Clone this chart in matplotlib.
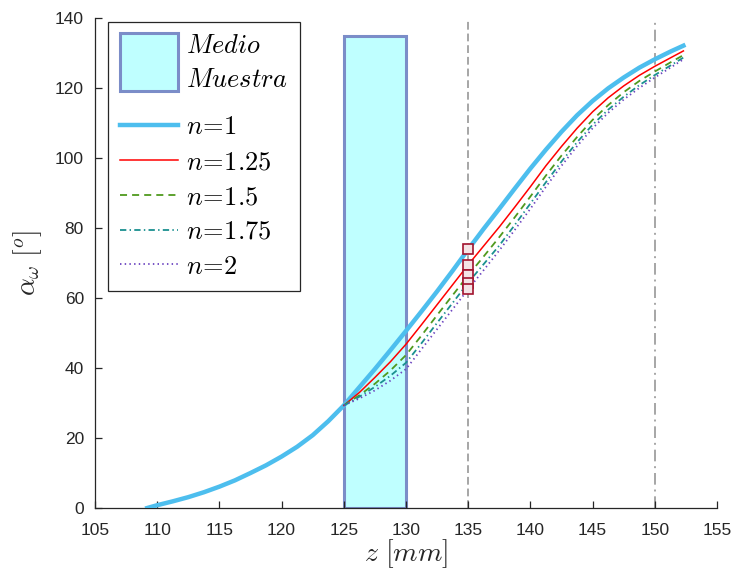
"""
Ángulo alpha_omega frente a z para distintos índices n.
"""
import matplotlib
matplotlib.use("Agg")
import matplotlib.pyplot as plt
import matplotlib.patches as mpatches
from matplotlib.legend_handler import HandlerPatch

# ── datos ───────────────────────────────────────────────────
z_1 = [109.2, 110, 111.25, 112.5, 113.75, 115, 116.25, 117.5, 118.75, 120,
       121.25, 122.5, 123.75, 125, 126.25, 127.5, 128.75, 130, 131.25, 132.5,
       133.75, 135, 136.25, 137.5, 138.75, 140, 141.25, 142.5, 143.75, 145,
       146.25, 147.5, 148.75, 150, 151.25, 152.3]
a_n1 = [0, 0.8, 1.9, 3.1, 4.5, 6.1, 7.9, 10.0, 12.2, 14.7,
        17.5, 20.8, 24.8, 29.3, 34.5, 39.7, 45.1, 50.6, 56.2, 61.9,
        67.8, 73.9, 79.8, 85.5, 91.3, 97.0, 102.4, 107.5, 112.2, 116.3,
        119.9, 123.0, 125.8, 128.2, 130.4, 132.1]

z_n = [125, 126.25, 127.5, 128.75, 130, 131.25, 132.5, 133.75, 135, 136.25,
       137.5, 138.75, 140, 141.25, 142.5, 143.75, 145, 146.25, 147.5, 148.75,
       150, 151.25, 152.3]
a_n125 = [29.3, 33.0, 37.3, 41.8, 46.8, 52.4, 58.1, 63.8, 69.5, 74.9,
          80.3, 86.0, 91.8, 97.8, 103.3, 108.5, 113.2, 117.2, 120.6, 123.6,
          126.2, 128.6, 130.6]
a_n15 = [29.3, 32.2, 35.5, 39.3, 43.7, 49.3, 55.1, 60.8, 66.5, 71.9,
         77.4, 83.1, 89.0, 95.0, 100.7, 106.0, 110.9, 115.1, 118.8, 122.0,
         124.7, 127.3, 129.4]
a_n175 = [29.3, 31.8, 34.6, 37.8, 41.5, 47.1, 52.9, 58.6, 64.4, 69.7,
          75.0, 80.9, 87.0, 93.1, 99.0, 104.5, 109.5, 113.8, 117.5, 120.8,
          123.7, 126.4, 128.7]
a_n2 = [29.3, 31.3, 33.6, 36.4, 39.7, 45.4, 51.1, 56.8, 62.5, 68.0,
        73.6, 79.5, 85.5, 91.8, 97.8, 103.4, 108.5, 112.9, 116.7, 120.0,
        123.0, 125.8, 128.2]

muestra_z = (125, 130)
muestra_alto = 135
z_marca = 135
z_ref = 150

etiquetas = [r"$n\!=\!1$", r"$n\!=\!1.25$", r"$n\!=\!1.5$", r"$n\!=\!1.75$", r"$n\!=\!2$"]

# ── estilo ──────────────────────────────────────────────────
plt.rcParams["mathtext.fontset"] = "cm"
plt.rcParams["font.family"] = ["Liberation Sans", "DejaVu Sans"]

fig = plt.figure(figsize=(7.32, 5.72), dpi=100)
ax = fig.add_axes([0.1298, 0.1119, 0.8497, 0.8566])

# muestra
caja = mpatches.Rectangle((muestra_z[0], 0), muestra_z[1] - muestra_z[0], muestra_alto,
                          facecolor="#BFFFFF", edgecolor="#7B8DC8", linewidth=2.2,
                          zorder=1, label="$Medio$\n$Muestra$")
ax.add_patch(caja)

# líneas de referencia
ax.axvline(z_marca, color="#A6A6A6", linestyle=(0, (4, 2)), linewidth=1.4, zorder=0.5)
ax.axvline(z_ref, color="#A6A6A6", linestyle=(0, (6, 2.5, 1, 2.5)), linewidth=1.4, zorder=0.5)

l1, = ax.plot(z_1, a_n1, color="#4DBEEE", linewidth=3.2, label=etiquetas[0], zorder=3)
l2, = ax.plot(z_n, a_n125, color="#FF0000", linewidth=1.1, label=etiquetas[1], zorder=3)
l3, = ax.plot(z_n, a_n15, color="#4F9A1E", linewidth=1.3, linestyle=(0, (3.9, 2.8)),
              label=etiquetas[2], zorder=3)
l4, = ax.plot(z_n, a_n175, color="#1A9090", linewidth=1.3, linestyle=(0, (3.5, 1.8, 0.8, 1.8)),
              label=etiquetas[3], zorder=3)
l5, = ax.plot(z_n, a_n2, color="#6B44C0", linewidth=1.3, linestyle=(0, (0.8, 1.8)),
              label=etiquetas[4], zorder=3)

# marcadores en z = 135
i1 = z_1.index(z_marca)
i2 = z_n.index(z_marca)
marcas = [a_n1[i1], a_n125[i2], a_n15[i2], a_n175[i2], a_n2[i2]]
ax.plot([z_marca] * len(marcas), marcas, linestyle="none", marker="s", markersize=6.5,
        markerfacecolor="#F4E4E6", markeredgecolor="#A2142F", markeredgewidth=1.2, zorder=4)

# ── ejes ────────────────────────────────────────────────────
ax.set_xlim(105, 155)
ax.set_ylim(0, 140)
ax.set_xticks(range(105, 156, 5))
ax.set_yticks(range(0, 141, 20))
for s in ("top", "right"):
    ax.spines[s].set_visible(False)
for s in ("left", "bottom"):
    ax.spines[s].set_color("#262626")
    ax.spines[s].set_linewidth(0.9)
ax.tick_params(direction="in", length=5, width=0.9, colors="#262626", labelsize=12.5)
ax.tick_params(axis="x", pad=11)
ax.tick_params(axis="y", pad=8)

ax.set_xlabel(r"$z\ [mm]$", fontsize=20, color="#262626", labelpad=-1)
ax.set_ylabel(r"$\alpha_{\omega}\ [^o]$", fontsize=20, color="#262626", labelpad=8)


class HandlerMuestra(HandlerPatch):
    """Caja alta para la entrada de dos líneas, con hueco extra debajo."""

    def legend_artist(self, legend, orig_handle, fontsize, handlebox):
        art = super().legend_artist(legend, orig_handle, fontsize, handlebox)
        handlebox.ydescent += 23
        handlebox.height += 23
        return art


def caja_leyenda(legend, orig_handle, xdescent, ydescent, width, height, fontsize):
    return mpatches.Rectangle((-xdescent, -ydescent - 0.97 * height), width, 3.14 * height)


ley = ax.legend(handles=[caja, l1, l2, l3, l4, l5], loc="upper left",
                bbox_to_anchor=(13 / 622, 0.9918), borderaxespad=0, fontsize=19,
                frameon=True, fancybox=False, edgecolor="#262626", framealpha=1,
                handlelength=2.2, handletextpad=0.3, labelspacing=0.41, borderpad=0.45,
                handler_map={mpatches.Rectangle: HandlerMuestra(patch_func=caja_leyenda)})
ley.get_frame().set_linewidth(0.9)
for t in ley.get_texts():
    t.set_linespacing(1.55)

fig.savefig("out.png", dpi=100)
